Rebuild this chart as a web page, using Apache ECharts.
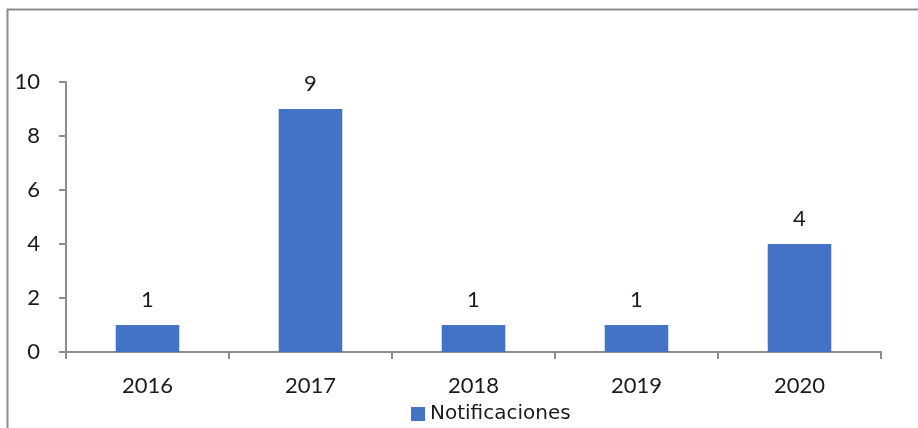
<!DOCTYPE html>
<html><head><meta charset="utf-8">
<script src="https://cdn.jsdelivr.net/npm/echarts@6/dist/echarts.min.js"></script>
<style>html,body{margin:0;padding:0;background:#fff}#c{width:918px;height:428px}</style>
</head><body><div id="c"></div>
<script>
const categories = ['2016','2017','2018','2019','2020'];
const notificaciones = [1, 9, 1, 1, 4];
const seriesName = 'Notificaciones';
const yTicks = {min: 0, max: 10, interval: 2};

const chart = echarts.init(document.getElementById('c'), null, {renderer: 'canvas'});
const font = 'Lato, "Open Sans", sans-serif';
chart.setOption({
  animation: false,
  textStyle: {fontFamily: font},
  graphic: [{
    type: 'polyline', silent: true,
    shape: {points: [[7.5, 440], [7.5, 9.5], [930, 9.5]]},
    style: {stroke: '#8c8c8c', lineWidth: 2, fill: null}
  }],
  grid: {left: 66, right: 37, top: 82, bottom: 76},
  legend: {
    data: [seriesName], bottom: -1, left: 406, icon: 'rect',
    itemWidth: 14, itemHeight: 14, itemGap: 6,
    textStyle: {fontFamily: '"DejaVu Sans", sans-serif', fontSize: 20, color: '#1a1a1a'}
  },
  xAxis: {
    type: 'category', data: categories,
    axisLine: {lineStyle: {color: '#8c8c8c', width: 2}},
    axisTick: {show: true, length: 7, lineStyle: {color: '#8c8c8c', width: 2}},
    axisLabel: {fontFamily: font, fontSize: 22, color: '#1a1a1a', margin: 23}
  },
  yAxis: {
    type: 'value', min: yTicks.min, max: yTicks.max, interval: yTicks.interval,
    splitLine: {show: false},
    axisLine: {show: true, lineStyle: {color: '#8c8c8c', width: 2}},
    axisTick: {show: true, length: 7, lineStyle: {color: '#8c8c8c', width: 2}},
    axisLabel: {fontFamily: font, fontSize: 22, color: '#1a1a1a', margin: 26}
  },
  series: [{
    name: seriesName, type: 'bar', data: notificaciones, barWidth: '39%',
    itemStyle: {color: '#4472C4'},
    label: {show: true, position: 'top', distance: 14, fontFamily: font, fontSize: 22, color: '#1a1a1a'}
  }]
});
</script></body></html>
